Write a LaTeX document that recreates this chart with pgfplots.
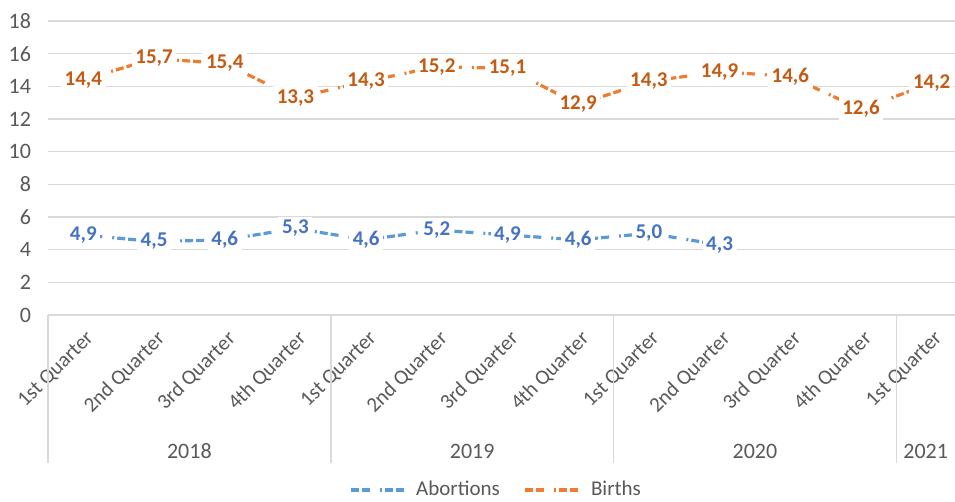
\documentclass[border=0pt]{standalone}
\usepackage{pgfplots}
\pgfplotsset{compat=1.18}
\usepackage{pgfplotstable}
\usepackage{fontspec}
\setmainfont{Carlito}
\definecolor{ablue}{HTML}{5B9BD5}
\definecolor{ablueT}{HTML}{4472C4}
\definecolor{borange}{HTML}{ED7D31}
\definecolor{borangeT}{HTML}{C55A11}
\definecolor{gridc}{HTML}{D9D9D9}
\definecolor{textc}{HTML}{595959}

\pgfplotstableread{
x y lab
0 4.9 4,9
1 4.5 4,5
2 4.6 4,6
3 5.3 5,3
4 4.6 4,6
5 5.2 5,2
6 4.9 4,9
7 4.6 4,6
8 5.0 5,0
9 4.3 4,3
}\abort

\pgfplotstableread{
x y lab
0 14.4 14,4
1 15.7 15,7
2 15.4 15,4
3 13.3 13,3
4 14.3 14,3
5 15.2 15,2
6 15.1 15,1
7 12.9 12,9
8 14.3 14,3
9 14.9 14,9
10 14.6 14,6
11 12.6 12,6
12 14.2 14,2
}\births

\tikzset{exdash/.style={dash pattern=on 4pt off 1.5pt on 4pt off 5pt on 1pt off 1.5pt}}

\begin{document}
\begin{tikzpicture}
\begin{axis}[
  scale only axis,
  width=453.5pt, height=147pt,
  xmin=-0.5, xmax=12.33, ymin=0, ymax=18,
  clip=false,
  ytick={0,2,...,18},
  xtick={0,...,12},
  xticklabels={1st Quarter,2nd Quarter,3rd Quarter,4th Quarter,1st Quarter,2nd Quarter,3rd Quarter,4th Quarter,1st Quarter,2nd Quarter,3rd Quarter,4th Quarter,1st Quarter},
  xticklabel style={xshift=0.7pt, yshift=-5.5pt, rotate=45, anchor=north east, font=\fontsize{10.5}{12}\selectfont, text=textc, inner sep=1pt},
  yticklabel style={font=\fontsize{11}{13}\selectfont, text=textc, xshift=-5pt},
  /pgf/number format/assume math mode=true,
  separate axis lines,
  axis x line*=bottom, axis y line*=left,
  x axis line style={gridc, line width=0.8pt},
  y axis line style={draw=none},
  major tick length=0pt,
  ymajorgrids, grid style={gridc, line width=0.8pt},
  legend style={at={(0.495,0)}, yshift=-87.5pt, anchor=center, draw=none, fill=none,
    legend columns=2, font=\fontsize{10.5}{12}\selectfont, text=textc,
    /tikz/every even column/.append style={column sep=10pt}},
  legend image code/.code={\draw[#1] (0pt,0pt) -- (30pt,0pt);},
  nodes near coords,
  point meta=explicit symbolic,
]
\coordinate (bl) at (rel axis cs:0,0);
\addplot[ablue, line width=1.6pt, exdash,
  every node near coord/.append style={anchor=center, fill=white, text=ablueT, font=\bfseries\fontsize{10.5}{12}\selectfont, inner sep=1.8pt, solid}]
  table[x=x, y=y, meta=lab] {\abort};
\addlegendentry{Abortions}
\addplot[borange, line width=1.6pt, exdash,
  every node near coord/.append style={anchor=center, fill=white, text=borangeT, font=\bfseries\fontsize{10.5}{12}\selectfont, inner sep=1.8pt, solid}]
  table[x=x, y=y, meta=lab] {\births};
\addlegendentry{Births}
\foreach \xx in {-0.5,3.5,7.5,11.5} {
  \edef\tmp{\noexpand\draw[gridc, line width=0.8pt] (axis cs:\xx,0) -- ++(0pt,-74pt);}
  \tmp
}
\node[text=textc, font=\fontsize{11}{13}\selectfont, yshift=-68pt] at (axis cs:1.5,0) {2018};
\node[text=textc, font=\fontsize{11}{13}\selectfont, yshift=-68pt] at (axis cs:5.5,0) {2019};
\node[text=textc, font=\fontsize{11}{13}\selectfont, yshift=-68pt] at (axis cs:9.5,0) {2020};
\node[text=textc, font=\fontsize{11}{13}\selectfont, yshift=-68pt] at (axis cs:11.915,0) {2021};
\end{axis}
\pgfresetboundingbox
\useasboundingbox (bl) ++(-24pt,-93.5pt) rectangle ++(477.5pt,251pt);
\end{tikzpicture}
\end{document}
